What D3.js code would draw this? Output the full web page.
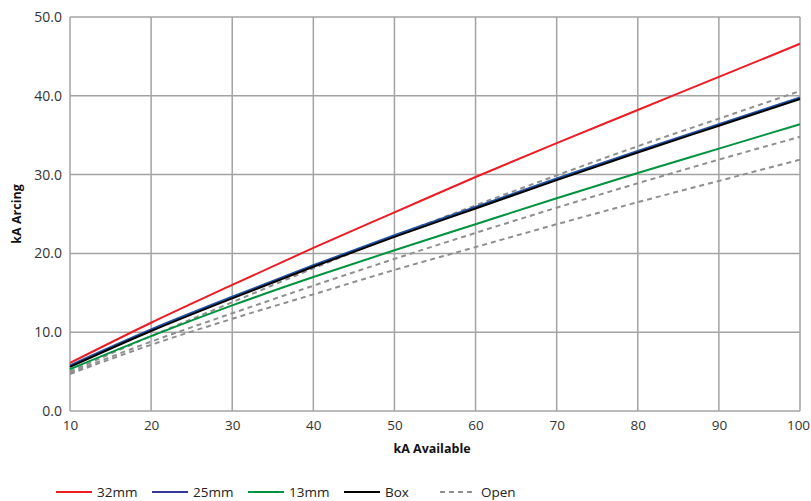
<!DOCTYPE html>
<html>
<head>
<meta charset="utf-8">
<script src="https://cdn.jsdelivr.net/npm/d3@7"></script>
<style>
  html, body { margin: 0; padding: 0; background: #fff; }
  svg { display: block; font-family: "Open Sans", "DejaVu Sans", sans-serif; }
</style>
</head>
<body>
<svg id="chart" width="811" height="501"></svg>
<script>
const kaAvailable = [10, 20, 30, 40, 50, 60, 70, 80, 90, 100];
const mm32  = [6.1, 11.2, 16.0, 20.7, 25.2, 29.7, 34.0, 38.2, 42.4, 46.6];
const mm25  = [5.8, 10.35, 14.5, 18.5, 22.3, 25.9, 29.5, 33.0, 36.4, 39.8];
const mm13  = [5.3, 9.5, 13.4, 17.0, 20.4, 23.7, 27.0, 30.2, 33.3, 36.4];
const box   = [5.6, 10.15, 14.3, 18.3, 22.1, 25.7, 29.3, 32.8, 36.2, 39.6];
const open1 = [5.0, 9.5, 13.8, 18.1, 22.2, 26.1, 29.9, 33.6, 37.1, 40.6];
const open2 = [4.85, 8.8, 12.4, 15.9, 19.3, 22.6, 25.8, 28.9, 31.9, 34.8];
const open3 = [4.7, 8.4, 11.7, 14.8, 17.9, 20.8, 23.7, 26.5, 29.2, 31.9];
const xTicks = [10, 20, 30, 40, 50, 60, 70, 80, 90, 100];
const yTicks = [0, 10, 20, 30, 40, 50];

const series = [
  { name: "Open", values: open3, color: "#8f8f8f", dash: "5,4" },
  { name: "Open", values: open2, color: "#8f8f8f", dash: "5,4" },
  { name: "Open", values: open1, color: "#8f8f8f", dash: "5,4" },
  { name: "13mm", values: mm13, color: "#00923f", dash: null },
  { name: "32mm", values: mm32, color: "#ed1c24", dash: null },
  { name: "25mm", values: mm25, color: "#2050a0", dash: null },
  { name: "Box",  values: box,  color: "#000000", dash: null }
];
const legendItems = [
  { name: "32mm", color: "#ed1c24", dash: null },
  { name: "25mm", color: "#33389a", dash: null },
  { name: "13mm", color: "#00923f", dash: null },
  { name: "Box",  color: "#000000", dash: null },
  { name: "Open", color: "#8f8f8f", dash: "5,4" }
];

const svg = d3.select("#chart");
const m = { left: 70, right: 11, top: 17, bottom: 90 };
const W = 811, H = 501;
const x = d3.scaleLinear().domain([10, 100]).range([m.left, W - m.right]);
const y = d3.scaleLinear().domain([0, 50]).range([H - m.bottom, m.top]);

// grid
const grid = svg.append("g");
grid.selectAll("line.v").data(xTicks).enter().append("line")
  .attr("x1", d => x(d)).attr("x2", d => x(d))
  .attr("y1", y(0)).attr("y2", y(50))
  .attr("stroke", "#a3a3a3").attr("stroke-width", 1.5);
grid.selectAll("line.h").data(yTicks).enter().append("line")
  .attr("x1", x(10)).attr("x2", x(100))
  .attr("y1", d => y(d)).attr("y2", d => y(d))
  .attr("stroke", "#a3a3a3").attr("stroke-width", 1.5);

// axes labels
const xAxis = d3.axisBottom(x).tickValues(xTicks).tickSize(0).tickPadding(9).tickFormat(d3.format("d"));
const gx = svg.append("g").attr("transform", `translate(0,${y(0)})`).call(xAxis);
gx.select(".domain").remove();
gx.selectAll("text").attr("font-size", 13.5).attr("fill", "#333").attr("font-family", "'Open Sans', sans-serif");
gx.selectAll(".tick").filter(d => d === 100).select("text").attr("dx", -2);

const yAxis = d3.axisLeft(y).tickValues(yTicks).tickSize(0).tickPadding(8).tickFormat(d3.format(".1f"));
const gy = svg.append("g").attr("transform", `translate(${x(10)},0)`).call(yAxis);
gy.select(".domain").remove();
gy.selectAll("text").attr("font-size", 14).attr("fill", "#333").attr("font-family", "'Open Sans', sans-serif");

// lines
const line = d3.line().x((d, i) => x(kaAvailable[i])).y(d => y(d)).curve(d3.curveMonotoneX);
svg.append("g").selectAll("path").data(series).enter().append("path")
  .attr("d", d => line(d.values))
  .attr("fill", "none")
  .attr("stroke", d => d.color)
  .attr("stroke-width", 2)
  .attr("stroke-dasharray", d => d.dash);

// titles
svg.append("text").attr("x", 432).attr("y", 453).attr("text-anchor", "middle")
  .attr("font-size", 12.5).attr("font-weight", "bold").attr("fill", "#111").text("kA Available");
svg.append("text").attr("transform", "translate(21,214) rotate(-90)").attr("text-anchor", "middle")
  .attr("font-size", 12.5).attr("font-weight", "bold").attr("fill", "#111").text("kA Arcing");

// legend
const lg = svg.append("g").attr("transform", "translate(56,492)");
const li = lg.selectAll("g").data(legendItems).enter().append("g")
  .attr("transform", (d, i) => `translate(${i * 96},0)`);
li.append("line").attr("x1", 0).attr("x2", 36).attr("y1", 0).attr("y2", 0)
  .attr("stroke", d => d.color).attr("stroke-width", 2).attr("stroke-dasharray", d => d.dash);
li.append("text").attr("x", 41).attr("y", 5).attr("font-size", 13.5).attr("fill", "#222").text(d => d.name);
</script>
</body>
</html>
